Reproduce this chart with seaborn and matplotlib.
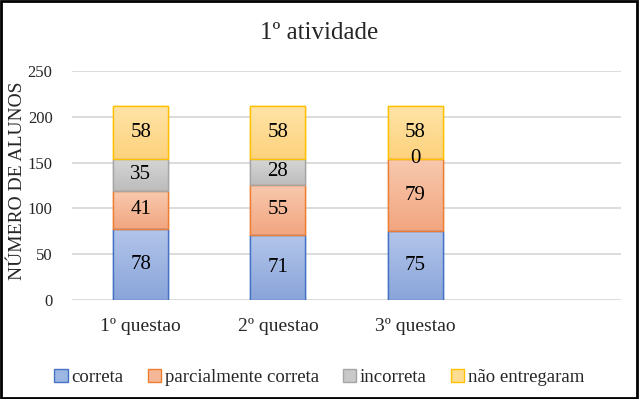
import numpy as np
import pandas as pd
import matplotlib
matplotlib.use("Agg")
import matplotlib.pyplot as plt
import seaborn as sns
from matplotlib.colors import LinearSegmentedColormap
from matplotlib.patches import Rectangle

categories = ["1º questao", "2º questao", "3º questao"]
series_names = ["correta", "parcialmente correta", "incorreta", "não entregaram"]
correta = [78, 71, 75]
parcial = [41, 55, 79]
incorreta = [35, 28, 0]
nao_entregaram = [58, 58, 58]
yticks = [0, 50, 100, 150, 200, 250]

series_values = [correta, parcial, incorreta, nao_entregaram]
edge_colors = ["#4472c4", "#ed7d31", "#a5a5a5", "#ffc000"]
grad_top = ["#b3c5ea", "#f8c9ae", "#d6d6d6", "#ffe4a8"]
grad_bot = ["#8aa5da", "#f2a680", "#bcbcbc", "#fdd27c"]
mid_colors = ["#9db5e3", "#f5b797", "#c9c9c9", "#fedc92"]

sns.set_theme(style="white")
FAM = ["Liberation Serif", "DejaVu Serif"]
plt.rcParams["font.family"] = FAM

fig = plt.figure(figsize=(6.39, 3.99), dpi=100)
ax = fig.add_axes([0.1127, 0.2481, 0.8592, 0.5739])

df_rows = []
for name, vals in zip(series_names, series_values):
    for c, v in zip(categories, vals):
        df_rows.append({"questao": c, "serie": name, "valor": v})
df = pd.DataFrame(df_rows)

bottom = np.zeros(len(categories))
for i, name in enumerate(series_names):
    sub = df[df["serie"] == name]
    n_before = len(ax.patches)
    sns.barplot(data=sub, x="questao", y="valor", order=categories, bottom=bottom,
                color=mid_colors[i], edgecolor=edge_colors[i], linewidth=1.0,
                width=0.4, saturation=1, ax=ax, zorder=3, errorbar=None)
    new = ax.patches[n_before:]
    vals = sub["valor"].to_numpy()
    for p, v, b in zip(new, vals, bottom):
        x0, y0, w, h = p.get_x(), p.get_y(), p.get_width(), p.get_height()
        if h > 0:
            cmap = LinearSegmentedColormap.from_list("g", [grad_bot[i], grad_top[i]])
            grad = np.linspace(0, 1, 64).reshape(-1, 1)
            im = ax.imshow(grad, extent=[x0, x0 + w, y0, y0 + h], origin="lower",
                           cmap=cmap, aspect="auto", zorder=3.5)
            im.set_clip_path(p)
            ax.add_patch(Rectangle((x0, y0), w, h, fill=False, edgecolor=edge_colors[i],
                                   linewidth=1.0, zorder=4))
        ax.text(x0 + w / 2, b + v / 2, f"{v}", ha="center", va="center",
                fontsize=15, color="black", zorder=6, family=FAM)
    bottom = bottom + vals

ax.set_xlim(-0.5, 3.5)
ax.set_ylim(0, 250)
ax.set_yticks(yticks)
ax.set_yticklabels([str(t) for t in yticks], fontsize=12, family=FAM)
ax.set_xticks(range(len(categories)))
ax.set_xticklabels(categories, fontsize=14, family=FAM)
ax.tick_params(axis="y", length=0, pad=14)
ax.tick_params(axis="x", length=0, pad=13)
ax.yaxis.grid(True, color="#d9d9d9", linewidth=1.3, zorder=0)
ax.set_axisbelow(True)
for s in ax.spines.values():
    s.set_visible(False)
ax.set_xlabel("")
ax.set_ylabel("NÚMERO DE ALUNOS", fontsize=14, family=FAM)
ax.yaxis.set_label_coords(-0.083, 0.52)

fig.text(0.5, 0.918, "1º atividade", ha="center", va="center", fontsize=18, family=FAM)

handles = [Rectangle((0, 0), 1, 1, facecolor=mid_colors[i], edgecolor=edge_colors[i], linewidth=1.0)
           for i in range(4)]
fig.legend(handles, series_names, loc="center", bbox_to_anchor=(0.5, 0.053), ncol=4,
           frameon=False, prop={"family": FAM, "size": 13.5}, handlelength=0.7, handleheight=0.7,
           handletextpad=0.2, columnspacing=1.3)

fig.add_artist(Rectangle((0.002, 0.003), 0.995, 0.994, transform=fig.transFigure,
                         fill=False, edgecolor="black", linewidth=2))

fig.savefig("out.png", dpi=100)
